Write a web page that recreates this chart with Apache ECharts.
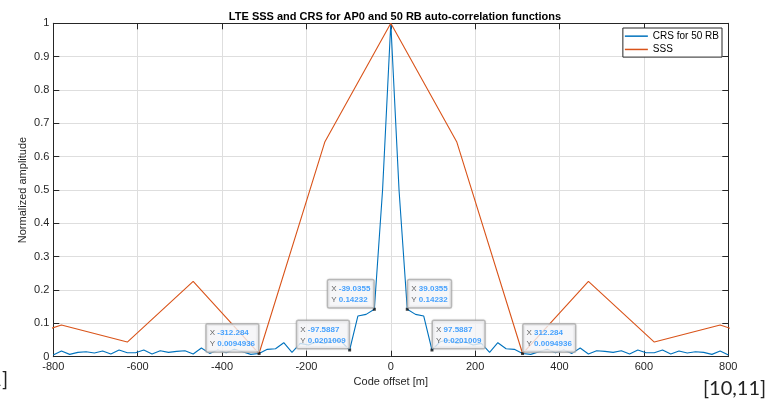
<!DOCTYPE html>
<html><head><meta charset="utf-8">
<script src="https://cdn.jsdelivr.net/npm/echarts@6/dist/echarts.min.js"></script>
<style>html,body{margin:0;padding:0;background:#fff}#c{width:768px;height:406px}</style>
</head><body><div id="c"></div>
<script>
// ---- data ----
const titleText = 'LTE SSS and CRS for AP0 and 50 RB auto-correlation functions';
const xName = 'Code offset [m]';
const yName = 'Normalized amplitude';
const seriesNames = ['CRS for 50 RB', 'SSS'];

// CRS: one value per sample, sample spacing 19.5177 m, sample index -41 .. 41
const crsStep = 19.5177;
const crsFirstIndex = -41;
const crsValues = [
  0.005, 0.017, 0.007, 0.013, 0.015, 0.011, 0.017, 0.008, 0.020, 0.012,
  0.012, 0.020, 0.008, 0.018, 0.013, 0.016, 0.018, 0.008, 0.026, 0.010,
  0.020, 0.012, 0.022, 0.015, 0.007, 0.0095, 0.022, 0.024, 0.042, 0.013,
  0.040, 0.035, 0.045, 0.040, 0.050, 0.045, 0.0201, 0.122, 0.127, 0.14232,
  0.50,
  1.00,
  0.50,
  0.14232, 0.127, 0.122, 0.0201, 0.045, 0.050, 0.040, 0.045, 0.035, 0.040,
  0.013, 0.042, 0.024, 0.022, 0.0095, 0.007, 0.015, 0.022, 0.012, 0.020,
  0.010, 0.026, 0.008, 0.018, 0.016, 0.013, 0.018, 0.008, 0.020, 0.012,
  0.012, 0.020, 0.008, 0.017, 0.011, 0.015, 0.013, 0.007, 0.017, 0.005
];

// SSS: sample spacing 156.144 m
const sssX = [-936.86, -780.72, -624.58, -468.43, -312.29, -156.14, 0, 156.14, 312.29, 468.43, 624.58, 780.72, 936.86];
const sssValues = [0.030, 0.095, 0.044, 0.226, 0.0095, 0.645, 1.0, 0.645, 0.0095, 0.226, 0.044, 0.095, 0.030];

// data tips
const tipX = [-312.284, -97.5887, -39.0355, 39.0355, 97.5887, 312.284];
const tipY = [0.0094936, 0.0201009, 0.14232, 0.14232, 0.0201009, 0.0094936];

// axes
const xMin = -800, xMax = 800, xStep = 200;
const yMin = 0, yMax = 1, yStep = 0.1;

const noteLeft = '1]';
const noteRight = '[10,11]';

// ---- chart ----
const crsData = crsValues.map((v, i) => [(i + crsFirstIndex) * crsStep, v]);
const sssData = sssValues.map((v, i) => [sssX[i], v]);
const tipData = tipX.map((x, i) => {
  const right = x > 0;
  return {
    value: [x, tipY[i]],
    label: {
      position: right ? [2.5, -0.5] : [0.5, -0.5],
      align: right ? 'left' : 'right',
      verticalAlign: 'bottom'
    }
  };
});

const axisColor = '#262626';
const font = '"Liberation Sans", Arial, sans-serif';
const chart = echarts.init(document.getElementById('c'));
chart.setOption({
  animation: false,
  backgroundColor: '#fff',
  textStyle: { fontFamily: font },
  title: {
    text: titleText, left: 390, top: 6, textAlign: 'center',
    textStyle: { fontSize: 11, fontWeight: 'bold', color: '#000', fontFamily: font }
  },
  grid: { left: 53.3, right: 39.7, top: 23.3, bottom: 49.3, containLabel: false },
  legend: {
    data: seriesNames.map(n => ({ name: n, icon: 'rect' })),
    orient: 'vertical', right: 46, top: 28,
    padding: [1.5, 3, 1, 2], itemGap: 0, itemWidth: 23, itemHeight: 1.5,
    borderColor: axisColor, borderWidth: 1, backgroundColor: '#fff',
    textStyle: { fontSize: 10, color: '#000', lineHeight: 13.3, fontFamily: font },
    z: 20
  },
  xAxis: [{
    type: 'value', min: xMin, max: xMax, interval: xStep,
    name: xName, nameLocation: 'middle', nameGap: 20, nameMoveOverlap: false,
    nameTextStyle: { fontSize: 11, color: axisColor },
    axisLine: { show: true, onZero: false, lineStyle: { color: axisColor, width: 1 } },
    axisTick: { show: true, inside: true, length: 6, lineStyle: { color: axisColor } },
    axisLabel: { fontSize: 11, color: axisColor, margin: 5 },
    splitLine: { show: true, lineStyle: { color: '#dedede', width: 1 } }
  }, {
    type: 'value', min: xMin, max: xMax, interval: xStep, position: 'top',
    axisLine: { show: true, onZero: false, lineStyle: { color: axisColor, width: 1 } },
    axisTick: { show: true, inside: true, length: 6, lineStyle: { color: axisColor } },
    axisLabel: { show: false }, splitLine: { show: false }
  }],
  yAxis: [{
    type: 'value', min: yMin, max: yMax, interval: yStep,
    name: yName, nameLocation: 'middle', nameGap: 25, nameMoveOverlap: false,
    nameTextStyle: { fontSize: 11, color: axisColor },
    axisLine: { show: true, onZero: false, lineStyle: { color: axisColor, width: 1 } },
    axisTick: { show: true, inside: true, length: 6, lineStyle: { color: axisColor } },
    axisLabel: { fontSize: 11, color: axisColor, margin: 4 },
    splitLine: { show: true, lineStyle: { color: '#dedede', width: 1 } }
  }, {
    type: 'value', min: yMin, max: yMax, interval: yStep, position: 'right',
    axisLine: { show: true, onZero: false, lineStyle: { color: axisColor, width: 1 } },
    axisTick: { show: true, inside: true, length: 6, lineStyle: { color: axisColor } },
    axisLabel: { show: false }, splitLine: { show: false }
  }],
  series: [{
    name: seriesNames[0], type: 'line', data: crsData, symbol: 'none', clip: true,
    color: '#0072BD', lineStyle: { width: 1.1, color: '#0072BD' }, z: 3
  }, {
    name: seriesNames[1], type: 'line', data: sssData, symbol: 'none', clip: true,
    color: '#D95319', lineStyle: { width: 1.1, color: '#D95319' }, z: 4
  }, {
    name: 'tips', type: 'scatter', data: tipData, symbol: 'rect', symbolSize: 3,
    itemStyle: { color: '#111' }, z: 10, silent: true,
    label: {
      show: true,
      formatter: p => '{k|X }{v|' + p.value[0] + '}\n{k|Y }{v|' + p.value[1] + '}',
      backgroundColor: 'rgba(252,252,255,0.95)',
      borderColor: '#b0b0b0', borderWidth: 1.5, borderRadius: 1,
      padding: [3, 3, 2, 3],
      shadowColor: 'rgba(0,0,0,0.15)', shadowBlur: 2,
      rich: {
        k: { fontSize: 8, color: '#404040', fontFamily: font, lineHeight: 11, align: 'left' },
        v: { fontSize: 8, color: '#1a8cff', fontWeight: 'bold', fontFamily: font, lineHeight: 11, align: 'left' }
      }
    }
  }],
  graphic: [
    { type: 'text', right: 760, top: 370, style: { text: noteLeft, font: '20px Lato, "Open Sans", sans-serif', fill: '#222' } },
    { type: 'text', left: 703, top: 379, style: { text: noteRight, font: '20px Lato, "Open Sans", sans-serif', fill: '#222' } }
  ]
});
</script>
</body></html>
